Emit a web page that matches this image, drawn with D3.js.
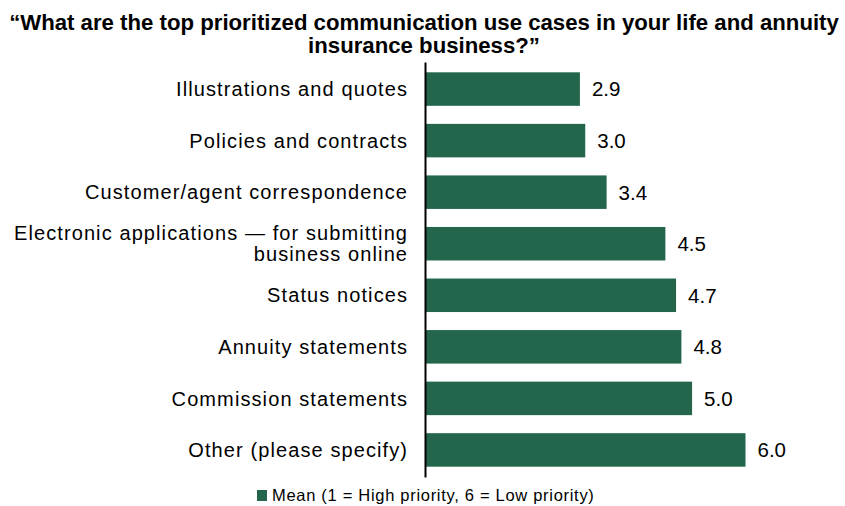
<!DOCTYPE html>
<html><head><meta charset="utf-8">
<script src="https://cdn.jsdelivr.net/npm/d3@7"></script>
<style>body{margin:0;background:#fff}svg{display:block}</style>
</head><body>
<svg id="c" width="845" height="506"></svg>
<script>
const categories = [
  ["Illustrations and quotes"],
  ["Policies and contracts"],
  ["Customer/agent correspondence"],
  ["Electronic applications \u2014 for submitting", "business online"],
  ["Status notices"],
  ["Annuity statements"],
  ["Commission statements"],
  ["Other (please specify)"]
];
const values = [2.9, 3.0, 3.4, 4.5, 4.7, 4.8, 5.0, 6.0];
const seriesName = "Mean (1 = High priority, 6 = Low priority)";
const titleLines = ["\u201cWhat are the top prioritized communication use cases in your life and annuity", "insurance business?\u201d"];

const svg = d3.select("#c");
const font = "'Liberation Sans', Arial, sans-serif";
const color = "#24664b";

const x = d3.scaleLinear().domain([0, 6]).range([425, 745.5]);
const y = d3.scaleBand().domain(d3.range(categories.length)).range([62, 477]).paddingInner(0.35).paddingOuter(0.2);

// title
svg.append("g").selectAll("text").data(titleLines).join("text")
  .attr("x", 424).attr("y", (d,i)=>29.5 + i*23.5)
  .attr("text-anchor","middle")
  .attr("font-family", font)
  .attr("font-weight","bold").attr("font-size", 22.2).attr("fill","#000")
  .text(d=>d);

// bars
svg.append("g").selectAll("rect").data(values).join("rect")
  .attr("x", x(0)).attr("y",(d,i)=>y(i))
  .attr("width", d=>x(d)-x(0)).attr("height", y.bandwidth())
  .attr("fill", color);

// value labels
svg.append("g").selectAll("text").data(values).join("text")
  .attr("x", d=>x(d)+12).attr("y",(d,i)=>y(i)+y.bandwidth()/2)
  .attr("dy","0.36em")
  .attr("font-family", font).attr("font-size", 20.5).attr("fill","#000")
  .text(d=>d3.format(".1f")(d));

// category labels
const ls = 1.1;
const cg = svg.append("g").selectAll("text").data(categories).join("text")
  .attr("text-anchor","end")
  .attr("font-family", font).attr("font-size", 20).attr("letter-spacing", ls).attr("fill","#000");
cg.each(function(lines,i){
  const t = d3.select(this);
  const cy = y(i)+y.bandwidth()/2;
  lines.forEach((ln,j)=>{
    t.append("tspan").attr("x", 407 + ls)
      .attr("y", cy + (j - (lines.length-1)/2)*21)
      .attr("dy","0.36em").text(ln);
  });
});

// axis
const axis = d3.axisLeft(y).tickSize(0).tickFormat("");
const ag = svg.append("g").attr("transform",`translate(${x(0)},0)`).call(axis);
ag.select(".domain").attr("stroke","#000").attr("stroke-width",2);

// legend
const lg = svg.append("g").attr("transform","translate(257,490)");
lg.append("rect").attr("width",10).attr("height",11).attr("fill",color);
lg.append("text").attr("x",15).attr("y",5.5).attr("dy","0.36em")
  .attr("font-family", font).attr("font-size",16.5).attr("letter-spacing",0.7).attr("fill","#000").text(seriesName);
</script>
</body></html>
